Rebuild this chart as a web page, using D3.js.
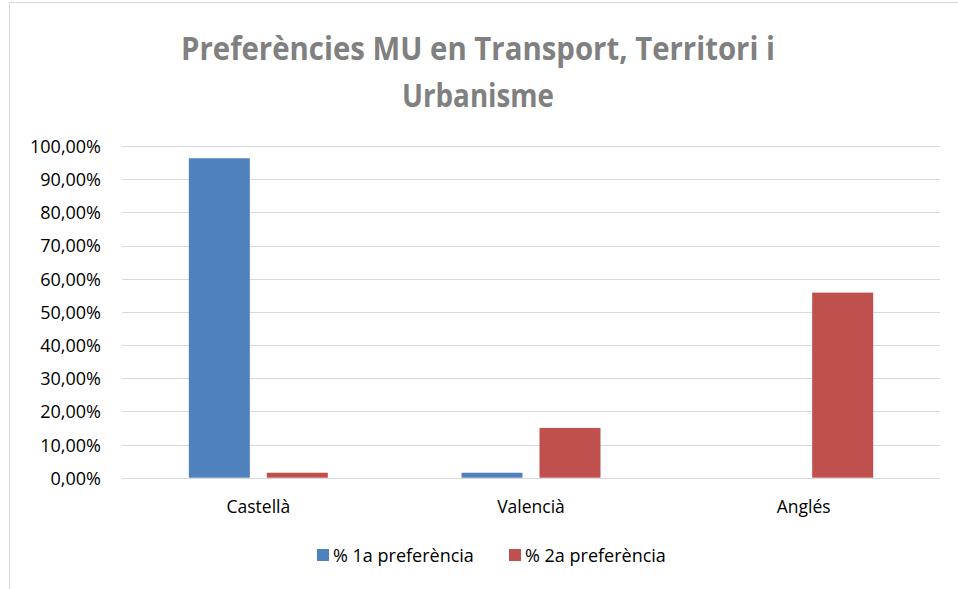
<!DOCTYPE html>
<html>
<head>
<meta charset="utf-8">
<script src="https://cdn.jsdelivr.net/npm/d3@7"></script>
<style>
  html, body { margin: 0; padding: 0; background: #fff; }
  svg { display: block; font-family: "Open Sans", sans-serif; }
</style>
</head>
<body>
<svg id="chart" width="958" height="589"></svg>
<script>
const categories = ["Castellà", "Valencià", "Anglés"];
const seriesNames = ["% 1a preferència", "% 2a preferència"];
const series1 = [0.963, 0.015, 0];
const series2 = [0.015, 0.150, 0.558];
const yTicks = [0, 0.1, 0.2, 0.3, 0.4, 0.5, 0.6, 0.7, 0.8, 0.9, 1.0];
const titleLines = ["Preferències MU en Transport, Territori i", "Urbanisme"];
const colors = ["#4F81BD", "#C0504D"];

const svg = d3.select("#chart");
const FONT = "'Open Sans', sans-serif";

// chart border (extends past right/bottom edges)
svg.append("rect").attr("x", 9.5).attr("y", 2.5).attr("width", 1000).attr("height", 700)
  .attr("fill", "#fff").attr("stroke", "#d9d9d9").attr("stroke-width", 1);

// title
const titleLen = [594, 152];
svg.append("g").selectAll("text").data(titleLines).join("text")
  .attr("x", 478).attr("y", (d, i) => 60 + i * 47)
  .attr("text-anchor", "middle")
  .attr("font-size", 33).attr("font-weight", "bold").attr("fill", "#808080")
  .attr("font-family", FONT)
  .attr("textLength", (d, i) => titleLen[i]).attr("lengthAdjust", "spacingAndGlyphs")
  .text(d => d);

const plot = { left: 122, right: 940, top: 146, bottom: 477.7 };
const y = d3.scaleLinear().domain([0, 1]).range([plot.bottom, plot.top]);
const x0 = d3.scaleBand().domain(categories).range([plot.left, plot.right]).paddingInner(0).paddingOuter(0);
const innerW = 61, gap = 17;

const fmt = v => d3.format(".2f")(v * 100).replace(".", ",") + "%";

// gridlines
svg.append("g").selectAll("line").data(yTicks).join("line")
  .attr("x1", plot.left).attr("x2", plot.right)
  .attr("y1", d => Math.round(y(d)) + 0.5).attr("y2", d => Math.round(y(d)) + 0.5)
  .attr("stroke", "#d9d9d9").attr("stroke-width", 1);

// y axis labels
const yAxis = d3.axisLeft(y).tickValues(yTicks).tickFormat(fmt).tickSize(0).tickPadding(0);
const gy = svg.append("g").attr("transform", `translate(101,0)`).call(yAxis);
gy.select(".domain").remove();
gy.selectAll("text").attr("font-size", 18).attr("fill", "#000").attr("font-family", FONT)
  .attr("dy", "0.36em");

// bars
const data = categories.map((c, i) => ({ cat: c, vals: [series1[i], series2[i]] }));
const groups = svg.append("g").selectAll("g").data(data).join("g")
  .attr("transform", d => `translate(${x0(d.cat) + x0.bandwidth() / 2},0)`);
groups.selectAll("rect").data(d => d.vals.map((v, k) => ({ v, k }))).join("rect")
  .attr("x", d => d.k === 0 ? -(innerW + gap / 2) : gap / 2)
  .attr("width", innerW)
  .attr("y", d => y(d.v))
  .attr("height", d => plot.bottom - y(d.v))
  .attr("fill", d => colors[d.k]);

// x axis labels
const xAxis = d3.axisBottom(x0).tickSize(0).tickPadding(0);
const gx = svg.append("g").attr("transform", `translate(0,512.5)`).call(xAxis);
gx.select(".domain").remove();
gx.selectAll("text").attr("font-size", 17.5).attr("fill", "#000").attr("font-family", FONT)
  .attr("dy", 0);

// legend
const legendX = [317, 509];
const lg = svg.append("g").selectAll("g").data(seriesNames).join("g")
  .attr("transform", (d, i) => `translate(${legendX[i]},549)`);
lg.append("rect").attr("width", 12).attr("height", 12).attr("fill", (d, i) => colors[i]);
lg.append("text").attr("x", 16).attr("y", 13).attr("font-size", 18).attr("fill", "#000")
  .attr("font-family", FONT).text(d => d);
</script>
</body>
</html>
